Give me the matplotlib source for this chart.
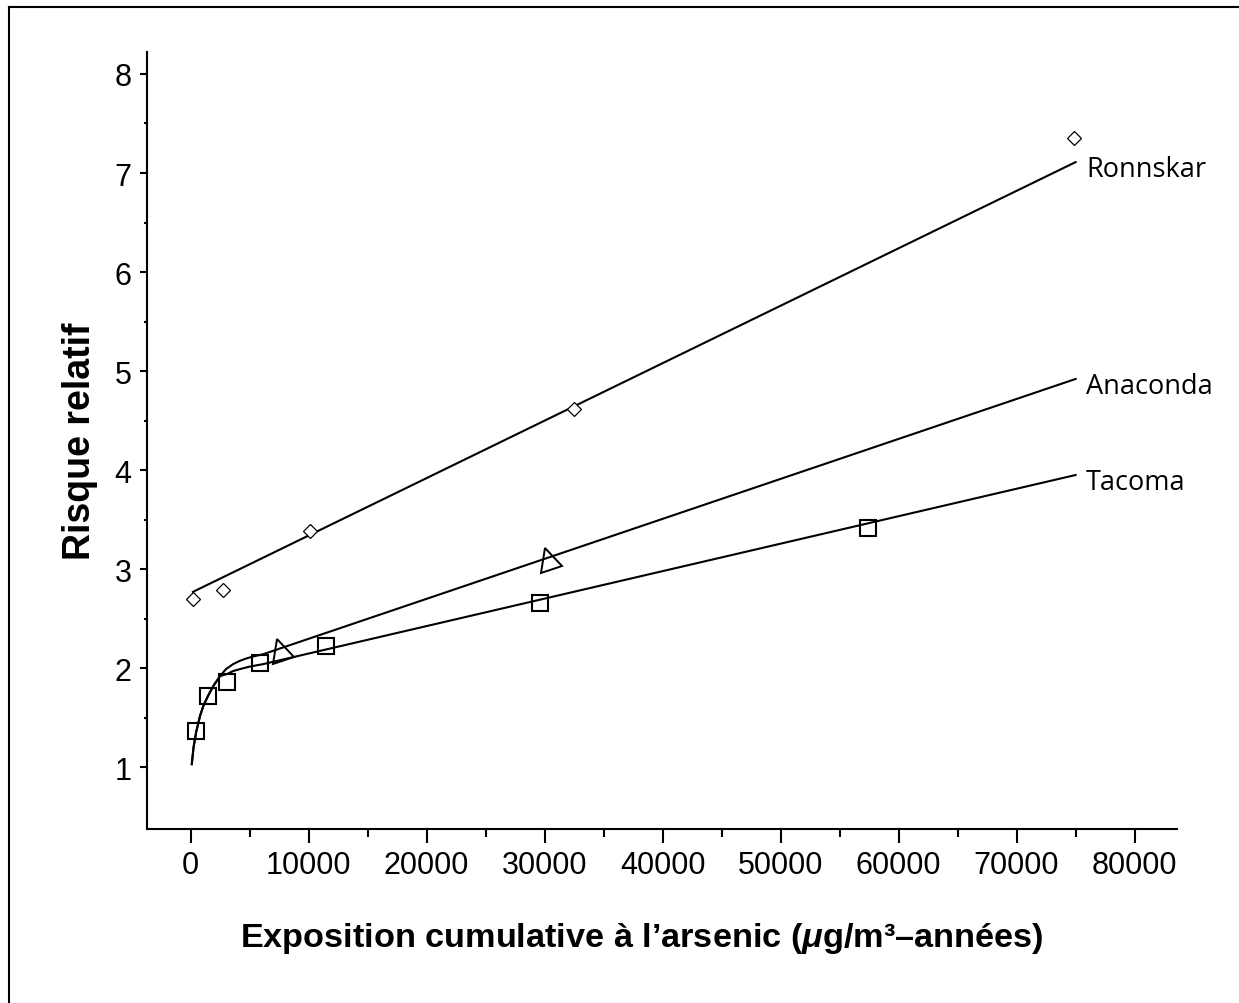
import matplotlib
matplotlib.use('Agg')
import matplotlib.pyplot as plt
from matplotlib.lines import Line2D
from matplotlib.markers import MarkerStyle
from matplotlib.transforms import Affine2D

# Observed points (cumulative arsenic exposure, relative risk).
ronnskar_x = [240, 2730, 10130, 32500, 74870]
ronnskar_y = [2.70, 2.79, 3.38, 4.62, 7.35]
anaconda_x = [7540, 30270]
anaconda_y = [2.18, 3.10]
tacoma_x = [465, 1510, 3070, 5890, 11460, 29650, 57420]
tacoma_y = [1.36, 1.72, 1.86, 2.05, 2.22, 2.66, 3.41]

# Fitted curves.
ronnskar_fit_x = [200, 75000]
ronnskar_fit_y = [2.77, 7.11]
shared_fit_x = [100, 250, 465, 805, 1085, 1480, 1930, 2500]
shared_fit_y = [1.03, 1.20, 1.35, 1.52, 1.62, 1.72, 1.82, 1.92]
anaconda_fit_x = shared_fit_x + [3000, 3600, 4200, 4790, 5400, 6140, 75000]
anaconda_fit_y = shared_fit_y + [1.99, 2.04, 2.075, 2.10, 2.12, 2.14, 4.92]
tacoma_fit_x = shared_fit_x + [3090, 3600, 4190, 5000, 6140, 75000]
tacoma_fit_y = shared_fit_y + [1.94, 1.97, 1.99, 2.015, 2.04, 3.95]

labels = ['Ronnskar', 'Anaconda', 'Tacoma']
label_y = [7.04, 4.85, 3.88]
label_x = 75900

plt.rcParams['font.family'] = ['Liberation Sans', 'DejaVu Sans']
plt.rcParams['mathtext.fontset'] = 'custom'
plt.rcParams['mathtext.rm'] = 'Liberation Sans:bold'
plt.rcParams['mathtext.it'] = 'Liberation Sans:italic:bold'
plt.rcParams['mathtext.bf'] = 'Liberation Sans:bold'

fig = plt.figure(figsize=(12.39, 10.04), dpi=100)
ax = fig.add_axes([0.1186, 0.1733, 0.9500 - 0.1186, 0.9475 - 0.1733])

lw = 1.5
ax.plot(ronnskar_fit_x, ronnskar_fit_y, color='black', lw=lw)
ax.plot(anaconda_fit_x, anaconda_fit_y, color='black', lw=lw)
ax.plot(tacoma_fit_x, tacoma_fit_y, color='black', lw=lw)

ax.plot(ronnskar_x, ronnskar_y, linestyle='none', marker='D', markersize=7,
        markerfacecolor='white', markeredgecolor='black', markeredgewidth=0.9)
tri = MarkerStyle('^', transform=Affine2D().rotate_deg(18))
ax.plot(anaconda_x, anaconda_y, linestyle='none', marker=tri, markersize=16,
        markerfacecolor='none', markeredgecolor='black', markeredgewidth=1.4)
ax.plot(tacoma_x, tacoma_y, linestyle='none', marker='s', markersize=11,
        markerfacecolor='none', markeredgecolor='black', markeredgewidth=1.5)

for name, yy in zip(labels, label_y):
    ax.text(label_x, yy, name, fontsize=19.5, family=['Open Sans', 'DejaVu Sans'],
            va='center', ha='left')

ax.set_xlim(-3700, 83600)
ax.set_ylim(0.375, 8.225)
ax.set_xticks(range(0, 80001, 10000))
ax.set_xticks(range(5000, 80000, 10000), minor=True)
ax.set_yticks(range(1, 9))
ax.set_yticks([1.5, 2.5, 3.5, 4.5, 5.5, 6.5, 7.5], minor=True)

for side in ['top', 'right']:
    ax.spines[side].set_visible(False)
for side in ['left', 'bottom']:
    ax.spines[side].set_linewidth(1.5)

ax.tick_params(axis='x', which='major', direction='out', length=10, width=1.5,
               labelsize=22, pad=5)
ax.tick_params(axis='x', which='minor', direction='out', length=6, width=1.5)
ax.tick_params(axis='y', which='major', direction='out', length=5, width=1.5,
               labelsize=22, pad=6)
ax.tick_params(axis='y', which='minor', direction='out', length=2.5, width=1.5)

ax.set_xlabel('Exposition cumulative à l\u2019arsenic ($\\mathit{\\mu}$g/m\u00b3\u2013années)',
              fontsize=24.7, fontweight='bold', labelpad=29)
ax.xaxis.label.set_x(0.48)
ax.set_ylabel('Risque relatif', fontsize=27, fontweight='bold', labelpad=12)

# outer frame of the figure (left and top edges visible)
fig.add_artist(Line2D([9 / 1239, 9 / 1239], [0, 1 - 8 / 1004], color='black', lw=1.5,
                      transform=fig.transFigure))
fig.add_artist(Line2D([9 / 1239, 1], [1 - 8 / 1004, 1 - 8 / 1004], color='black', lw=1.5,
                      transform=fig.transFigure))

fig.savefig('out.png', dpi=100)
